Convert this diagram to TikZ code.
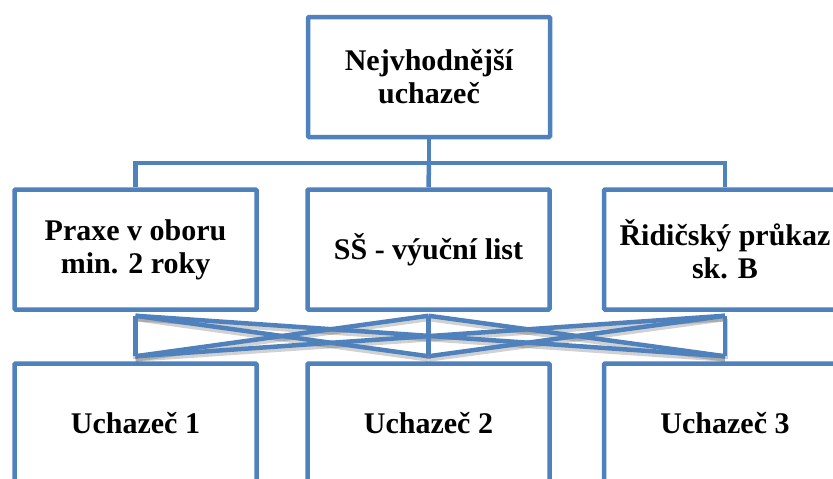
\documentclass[tikz,border=0pt]{standalone}
\usepackage{fontspec}
\setmainfont{Liberation Serif}
\usetikzlibrary{calc}
\definecolor{boxblue}{HTML}{4F81BD}
\tikzset{
  every picture/.style={x=1pt,y=-1pt},
  card/.style={draw=boxblue, line width=4.5pt, fill=white, rounded corners=1pt,
    minimum width=242pt, minimum height=120pt, inner sep=0pt, align=center,
    font=\fontsize{30}{33}\selectfont\bfseries},
  link/.style={draw=boxblue, line width=4.5pt},
  linkshadow/.style={draw=black, line width=5pt, opacity=0.18},
}
\begin{document}
\begin{tikzpicture}
\useasboundingbox (0,0) rectangle (833,479);

% goal
\node[card] (top) at (429,77) {Nejvhodnější\\uchazeč};

% criteria
\node[card] (c1) at (135.5,249.5) {Praxe v oboru\\min. 2 roky};
\node[card] (c2) at (428.5,249.5) {SŠ - výuční list};
\node[card] (c3) at (725,249.5) {Řidičský průkaz\\sk. B};

% candidates
\node[card] (u1) at (135.5,423.5) {Uchazeč 1};
\node[card] (u2) at (428.5,423.5) {Uchazeč 2};
\node[card] (u3) at (725,423.5) {Uchazeč 3};

% tree from the goal to the criteria
\coordinate (bus) at (top.south |- 0,163);
\draw[link] (top.south) -- (bus);
\draw[link] (c1.north) |- (bus) -| (c3.north);
\draw[link] (bus) -- (c2.north);

% end points of the criterion-candidate links
\foreach \i in {1,2,3} {
  \coordinate (a\i) at ($(c\i.south)+(0,4)$);
  \coordinate (b\i) at ($(u\i.north)+(0,-5)$);
}

% soft shadow under the links
\foreach \i in {1,2,3} {
  \foreach \j in {1,2,3} {
    \draw[linkshadow] ($(a\i)+(0,3)$) -- ($(b\j)+(0,3)$);
  }
}
% every criterion linked to every candidate
\foreach \i in {1,2,3} {
  \foreach \j in {1,2,3} {
    \draw[link] (a\i) -- (b\j);
  }
}
\end{tikzpicture}
\end{document}
